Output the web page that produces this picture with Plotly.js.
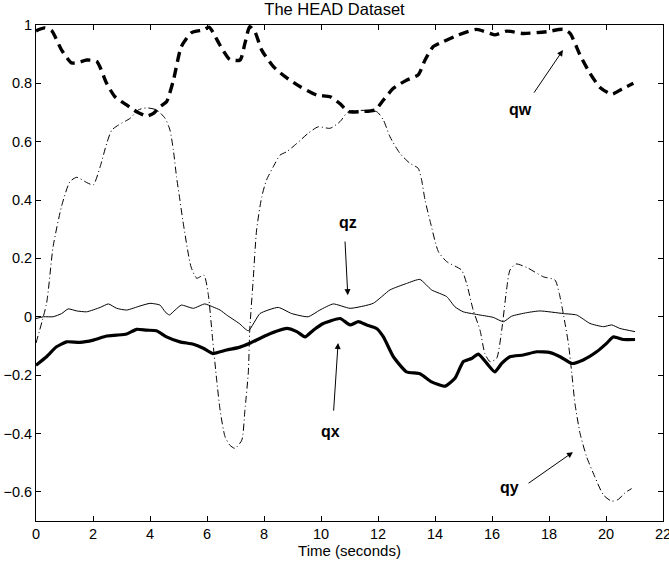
<!DOCTYPE html>
<html><head><meta charset="utf-8">
<script src="https://cdn.plot.ly/plotly-3.0.1.min.js"></script>
<style>body{margin:0;background:#fff}#chart{width:669px;height:563px}</style>
</head><body><div id="chart"></div>
<script>
const qwX=[0,0.3,0.55,0.9,1.25,1.5,1.78,2.13,2.48,2.77,3.18,3.53,3.88,4.12,4.35,4.58,4.82,5.1,5.46,5.87,6.08,6.46,6.8,7.16,7.33,7.5,7.68,7.92,8.33,8.74,9.26,9.85,10.32,10.67,10.96,11.37,11.9,12.19,12.54,13.0,13.41,13.65,13.94,14.29,14.82,15.46,15.93,16.1,16.51,17.1,17.92,18.5,18.74,19.09,19.44,19.79,20.2,20.55,20.96];
const qwY=[0.98,0.99,0.98,0.914,0.87,0.872,0.88,0.875,0.80,0.754,0.726,0.703,0.688,0.697,0.72,0.737,0.81,0.926,0.974,0.983,0.992,0.93,0.882,0.88,0.937,0.994,0.977,0.914,0.857,0.823,0.789,0.76,0.754,0.73,0.703,0.703,0.709,0.743,0.783,0.811,0.829,0.88,0.926,0.943,0.966,0.985,0.971,0.966,0.979,0.971,0.977,0.985,0.971,0.897,0.834,0.786,0.763,0.78,0.80];

const qyX=[0,0.37,0.6,0.9,1.19,1.43,1.78,2.01,2.25,2.48,2.66,2.89,3.3,3.59,3.88,4.23,4.53,4.7,4.82,4.93,5.05,5.15,5.44,5.64,5.89,6.04,6.2,6.34,6.46,6.63,6.8,6.98,7.22,7.33,7.45,7.5,7.62,7.74,7.92,8.09,8.39,8.56,8.8,9.15,9.55,9.9,10.32,10.67,10.96,11.95,12.19,12.42,12.77,13.12,13.41,13.53,13.65,13.82,14.12,14.41,14.93,15.11,15.34,15.58,15.75,15.93,16.16,16.34,16.51,16.63,16.84,17.22,17.8,18.21,18.36,18.5,18.68,18.8,18.91,19.09,19.32,19.61,19.91,20.2,20.43,20.67,20.9];
const qyY=[-0.09,0.046,0.24,0.38,0.463,0.478,0.46,0.452,0.514,0.594,0.64,0.657,0.68,0.709,0.716,0.709,0.68,0.64,0.571,0.48,0.4,0.331,0.171,0.132,0.143,0.08,-0.08,-0.217,-0.32,-0.41,-0.44,-0.451,-0.423,-0.32,-0.19,-0.046,0.126,0.297,0.411,0.469,0.526,0.554,0.566,0.594,0.629,0.651,0.646,0.669,0.703,0.703,0.674,0.617,0.56,0.526,0.509,0.469,0.4,0.331,0.223,0.189,0.16,0.114,0.023,-0.046,-0.126,-0.154,-0.143,-0.046,0.092,0.16,0.181,0.169,0.137,0.126,0.08,0.011,-0.091,-0.194,-0.297,-0.4,-0.48,-0.549,-0.611,-0.632,-0.626,-0.603,-0.589];

const qzX=[0,0.26,0.6,0.9,1.13,1.43,1.78,2.25,2.54,2.83,3.18,3.65,4.0,4.35,4.53,4.68,4.88,5.1,5.52,5.92,6.2,6.46,6.69,7.13,7.45,7.86,8.5,8.97,9.55,9.96,10.43,11.02,11.83,12.42,13.0,13.47,13.88,14.41,14.7,14.99,15.58,16.04,16.4,16.69,17.22,17.68,18.5,18.97,19.44,19.91,20.2,20.49,21.02];
const qzY=[-0.006,0,0,0.011,0.027,0.02,0.017,0.032,0.044,0.029,0.023,0.037,0.046,0.04,0.017,0.006,0.023,0.04,0.029,0.044,0.034,0.023,0.006,-0.023,-0.048,0.011,0.032,0.011,0,0.023,0.044,0.029,0.046,0.092,0.114,0.128,0.092,0.069,0.034,0.017,0.006,-0.002,-0.017,0.002,0.014,0.02,0.011,0.006,-0.023,-0.034,-0.028,-0.04,-0.051];

const qxX=[0,0.37,0.72,1.07,1.54,2.01,2.48,2.83,3.18,3.53,3.88,4.23,4.58,5.05,5.52,5.87,6.2,6.69,7.13,7.5,8.09,8.8,9.15,9.44,9.73,10.08,10.67,11.02,11.31,11.6,11.95,12.19,12.54,13.0,13.47,13.88,14.35,14.7,14.99,15.28,15.52,15.82,16.1,16.34,16.63,17.1,17.57,18.04,18.39,18.8,19.2,19.67,20.02,20.26,20.61,21.02];
const qxY=[-0.166,-0.137,-0.103,-0.086,-0.088,-0.08,-0.066,-0.063,-0.059,-0.043,-0.046,-0.048,-0.069,-0.086,-0.094,-0.108,-0.126,-0.114,-0.105,-0.091,-0.063,-0.04,-0.051,-0.069,-0.046,-0.023,-0.006,-0.028,-0.017,-0.028,-0.04,-0.069,-0.137,-0.189,-0.195,-0.223,-0.238,-0.211,-0.154,-0.143,-0.128,-0.16,-0.189,-0.16,-0.137,-0.131,-0.12,-0.123,-0.137,-0.16,-0.148,-0.12,-0.091,-0.069,-0.078,-0.078];

const labels=["qw","qz","qx","qy"];
const labelPos=[[17.0,0.709],[10.95,0.324],[10.32,-0.393],[16.6,-0.585]];
const arrowTip=[[18.49,0.914],[10.94,0.074],[10.6,-0.09],[18.84,-0.464]];
const arrowTail=[[17.44,0.763],[10.84,0.263],[10.44,-0.327],[17.23,-0.574]];

const xTicks=[0,2,4,6,8,10,12,14,16,18,20,22];
const yTicks=[-0.6,-0.4,-0.2,0,0.2,0.4,0.6,0.8,1];

const traces=[
 {x:qwX,y:qwY,mode:'lines',line:{color:'#000',width:3.4,dash:'10px,6px',shape:'spline',smoothing:0.6},hoverinfo:'none'},
 {x:qyX,y:qyY,mode:'lines',line:{color:'#000',width:1,dash:'7px,3px,1px,3px',shape:'spline',smoothing:0.6},hoverinfo:'none'},
 {x:qzX,y:qzY,mode:'lines',line:{color:'#000',width:1,shape:'spline',smoothing:0.5},hoverinfo:'none'},
 {x:qxX,y:qxY,mode:'lines',line:{color:'#000',width:3.2,shape:'spline',smoothing:0.5},hoverinfo:'none'}
];

const ann=[];
labels.forEach((t,i)=>{
  ann.push({x:labelPos[i][0],y:labelPos[i][1],xref:'x',yref:'y',text:'<b>'+t+'</b>',showarrow:false,font:{size:16,color:'#000'}});
  ann.push({x:arrowTip[i][0],y:arrowTip[i][1],ax:arrowTail[i][0],ay:arrowTail[i][1],xref:'x',yref:'y',axref:'x',ayref:'y',text:'',showarrow:true,arrowhead:2,arrowsize:1.2,arrowwidth:1,arrowcolor:'#000'});
});

const axBase={showgrid:false,zeroline:false,showline:true,linecolor:'#000',linewidth:1,mirror:'ticks',ticks:'inside',ticklen:5,tickcolor:'#000',tickfont:{size:14.5,color:'#000'},ticklabeloverflow:'allow'};
const layout={
 width:669,height:563,
 margin:{l:36,r:6,t:25,b:42},
 paper_bgcolor:'#fff',plot_bgcolor:'#fff',
 font:{family:'"Liberation Sans", Arial, Helvetica, sans-serif',color:'#000'},
 showlegend:false,
 title:{text:'The HEAD Dataset',font:{size:16.5,color:'#000'},x:0.5,xanchor:'center',y:1-9/563,yanchor:'middle',yref:'container'},
 xaxis:Object.assign({},axBase,{range:[0,22],tickvals:xTicks,ticktext:xTicks.map(String),title:{text:'Time (seconds)',font:{size:15},standoff:0}}),
 yaxis:Object.assign({},axBase,{range:[-0.7,1],tickvals:yTicks,ticktext:yTicks.map(v=>v===0?'0':(v===1?'1':(v<0?'\u2212'+Math.abs(v).toFixed(1):v.toFixed(1))))}),
 annotations:ann
};
Plotly.newPlot('chart',traces,layout,{displayModeBar:false,staticPlot:true});
</script></body></html>
